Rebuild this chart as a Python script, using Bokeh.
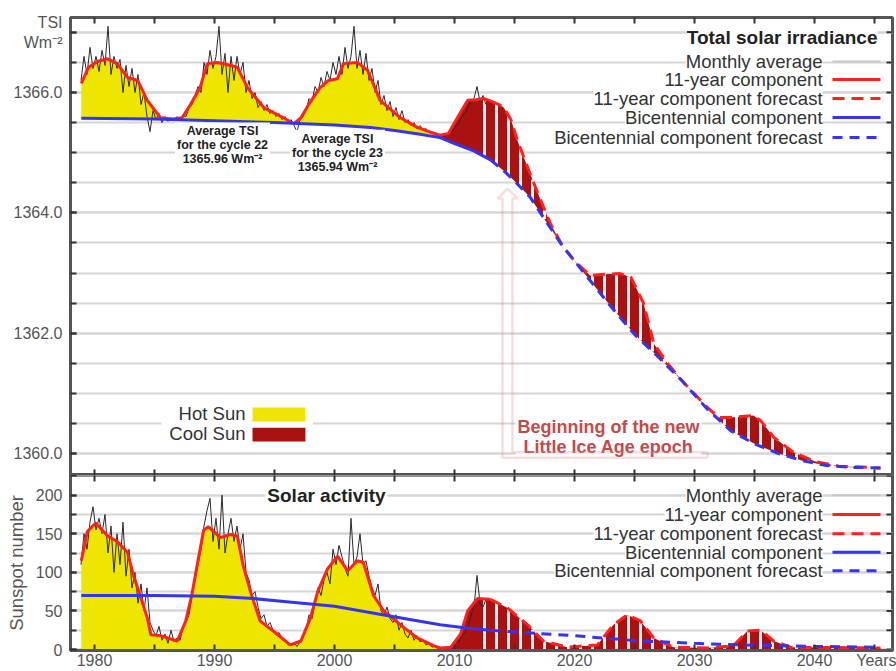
import numpy as np
from bokeh.plotting import figure
from bokeh.layouts import column
from bokeh.models import (Range1d, FixedTicker, NumeralTickFormatter,
                          Label, BoxAnnotation, Arrow, PolyAnnotation)
from bokeh.embed import file_html
from bokeh.resources import INLINE

# ------------------------------------------------------------------ data
MONTHLY_START = 1978.875
MONTHLY_STEP = 0.25

TSI_MONTHLY = [
    1366.2,
    1366.6, 1366.3, 1366.75, 1366.4,
    1366.6, 1366.35, 1366.7, 1366.45,
    1367.1, 1366.3, 1366.6, 1366.4,
    1366.55, 1366.0, 1366.45, 1366.1,
    1366.4, 1366.0, 1366.3, 1365.8,
    1366.0, 1365.6, 1365.35, 1365.7,
    1365.55, 1365.65, 1365.5, 1365.6,
    1365.52, 1365.58, 1365.55, 1365.6,
    1365.55, 1365.62, 1365.6, 1365.75,
    1365.8, 1365.95, 1366.1, 1366.0,
    1366.5, 1366.3, 1366.7, 1366.4,
    1366.6, 1367.1, 1366.3, 1366.65,
    1366.0, 1366.6, 1366.2, 1366.6,
    1366.3, 1366.5, 1366.0, 1366.2,
    1365.9, 1366.0, 1365.75, 1365.85,
    1365.7, 1365.8, 1365.65, 1365.7,
    1365.6, 1365.65, 1365.55, 1365.6,
    1365.5, 1365.55, 1365.45, 1365.35,
    1365.55, 1365.6, 1365.7, 1365.9,
    1365.85, 1366.1, 1366.0, 1366.25,
    1366.1, 1366.35, 1366.2, 1366.5,
    1366.3, 1366.6, 1366.3, 1366.75,
    1366.4, 1366.6, 1367.1, 1366.4,
    1366.7, 1366.3, 1366.65, 1366.2,
    1366.4, 1366.0, 1366.2, 1365.8,
    1365.95, 1365.7, 1365.85, 1365.6,
    1365.75, 1365.55, 1365.7, 1365.5,
    1365.55, 1365.45, 1365.5, 1365.4,
    1365.45, 1365.38, 1365.4, 1365.33,
    1365.35, 1365.3, 1365.28, 1365.3,
    1365.27, 1365.3, 1365.32, 1365.38,
    1365.45, 1365.5, 1365.6, 1365.65,
    1365.75, 1365.85, 1365.9, 1366.1,
    1365.85, 1365.95, 1365.8,
]

SSN_MONTHLY = [
    110,
    150, 130, 165, 185,
    155, 170, 150, 175,
    125, 160, 100, 150,
    110, 165, 95, 130,
    80, 100, 60, 85,
    50, 80, 35, 25,
    18, 30, 12, 20,
    8, 25, 10, 15,
    12, 28, 35, 45,
    70, 90, 110, 130,
    160, 180, 196, 140,
    170, 130, 200, 125,
    150, 170, 140, 160,
    130, 150, 100, 90,
    70, 75, 55, 40,
    45, 30, 35, 25,
    20, 22, 15, 10,
    8, 5, 9, 4,
    10, 18, 25, 45,
    40, 60, 80, 70,
    90, 100, 85, 130,
    110, 135, 120, 105,
    95, 170, 110, 120,
    150, 110, 115, 95,
    80, 70, 85, 50,
    45, 55, 40, 35,
    45, 25, 35, 20,
    15, 25, 12, 18,
    10, 12, 6, 8,
    3, 5, 1, 2,
    1, 2, 4, 8,
    12, 10, 18, 22,
    30, 45, 55, 96,
    60, 55, 65,
]

TSI_11Y_YEARS = [1978.9, 1979.5, 1980.3, 1981.1, 1981.9, 1982.75, 1983.6, 1984.4, 1985.5, 1986.5,
                 1987.3, 1988.0, 1988.8, 1989.4, 1990.25, 1991.1, 1991.9, 1992.75, 1994.1, 1995.75,
                 1996.6, 1997.2, 1998.0, 1998.8, 1999.5, 2000.25, 2000.75, 2001.9, 2002.75, 2003.8,
                 2005.5, 2006.9, 2008.0, 2008.8, 2009.5, 2010.3, 2011.1, 2011.8, 2012.4, 2013.0]
TSI_11Y = [1366.15, 1366.42, 1366.52, 1366.56, 1366.48, 1366.25, 1366.2, 1365.87, 1365.58, 1365.56,
           1365.58, 1365.8, 1366.08, 1366.48, 1366.5, 1366.46, 1366.42, 1366.08, 1365.75, 1365.58,
           1365.48, 1365.58, 1365.85, 1366.08, 1366.2, 1366.23, 1366.48, 1366.5, 1366.37, 1365.87,
           1365.58, 1365.42, 1365.34, 1365.29, 1365.32, 1365.6, 1365.87, 1365.88, 1365.9, 1365.86]
TSI_11Y_FC_YEARS = [2013.0, 2013.7, 2014.1, 2014.7, 2015.25, 2016.3, 2017.2, 2018.0, 2019.0, 2020.0,
                    2021.3, 2022.5, 2023.8, 2024.7, 2025.75, 2026.6, 2027.75, 2029.0, 2031.0, 2032.0,
                    2033.0, 2034.9, 2035.5, 2036.6, 2038.25, 2040.0, 2042.0, 2045.5]
TSI_11Y_FC = [1365.86, 1365.8, 1365.75, 1365.55, 1365.2, 1364.65, 1364.2, 1363.82, 1363.45, 1363.2,
              1362.96, 1362.98, 1362.99, 1362.93, 1362.5, 1361.83, 1361.5, 1361.2, 1360.78, 1360.6,
              1360.6, 1360.63, 1360.55, 1360.27, 1360.02, 1359.87, 1359.79, 1359.76]

TSI_BI_YEARS = [1978.9, 1985.0, 1990.0, 1995.0, 2000.0, 2003.0, 2005.0, 2007.0, 2008.8, 2010.0,
                2011.6, 2013.0]
TSI_BI = [1365.57, 1365.56, 1365.53, 1365.50, 1365.46, 1365.42, 1365.37, 1365.31, 1365.25, 1365.15,
          1365.03, 1364.88]
TSI_BI_FC_YEARS = [2013.0, 2014.1, 2015.0, 2016.3, 2017.75, 2019.0, 2021.0, 2023.0, 2025.0, 2027.0,
                   2029.0, 2031.0, 2033.0, 2035.0, 2037.0, 2039.0, 2041.0, 2043.0, 2045.5]
TSI_BI_FC = [1364.88, 1364.70, 1364.53, 1364.26, 1363.82, 1363.45, 1362.95, 1362.45, 1361.98, 1361.60,
             1361.20, 1360.75, 1360.38, 1360.16, 1360.00, 1359.88, 1359.80, 1359.77, 1359.76]

SSN_11Y_YEARS = [1978.9, 1979.4, 1980.1, 1981.1, 1981.9, 1982.75, 1983.25, 1983.8, 1984.4, 1984.7,
                 1985.5, 1986.9, 1987.6, 1988.1, 1988.6, 1989.1, 1989.5, 1990.5, 1991.3, 1991.9,
                 1992.4, 1993.0, 1993.8, 1994.9, 1996.3, 1997.2, 1998.0, 1998.6, 1999.4, 2000.25,
                 2001.1, 2001.9, 2002.4, 2003.25, 2004.1, 2005.5, 2006.9, 2008.25, 2008.8, 2009.7,
                 2010.5, 2011.1, 2011.9, 2013.0]
SSN_11Y = [115, 153, 164, 147, 140, 126, 96, 70, 41, 19,
           18, 11, 37, 70, 113, 155, 159, 145, 149, 147,
           108, 75, 37, 24, 6, 11, 41, 75, 104, 121,
           102, 115, 113, 70, 50, 32, 15, 5, 2, 3,
           20, 50, 66, 65]
SSN_11Y_FC_YEARS = [2013.0, 2014.4, 2016.1, 2017.4, 2019.4, 2021.9, 2023.25, 2024.4, 2025.5, 2026.6,
                    2028.25, 2031.0, 2033.25, 2034.4, 2035.5, 2036.6, 2038.0, 2045.5]
SSN_11Y_FC = [65, 54, 32, 11, 3, 6, 32, 45, 37, 15,
              3, 2, 5, 24, 25, 11, 3, 2]

SSN_BI_YEARS = [1978.9, 1985.0, 1990.0, 1993.25, 1996.0, 2000.0, 2004.0, 2008.8, 2011.0, 2013.0]
SSN_BI = [70, 70, 69, 66, 62, 56, 45, 32, 28, 25]
SSN_BI_FC_YEARS = [2013.0, 2015.75, 2019.9, 2025.5, 2030.0, 2033.8, 2040.0, 2045.5]
SSN_BI_FC = [25, 22, 18, 11, 8, 6, 4, 3]

HOT_END = 2008.8      # end of "hot sun" period
FC_START = 2013.0     # start of forecasts
STRIPE_START = 2012.5  # first light stripe of the "cool sun" forecast shading

X_MAJOR = [1980, 1990, 2000, 2010, 2020, 2030, 2040]
X_TICKS = [1980, 1985, 1990, 1995, 2000, 2005, 2010, 2015, 2020, 2025, 2030, 2035, 2040, 2045]
YEARS_POS = 2045.9
TSI_MAJOR = [1360, 1362, 1364, 1366, 1367]
TSI_TICKS = [1360.0 + 0.5 * k for k in range(15)]
SSN_MAJOR = [0, 50, 100, 150, 200]
SSN_TICKS = [25 * k for k in range(10)]

LEGEND_LABELS = ["Monthly average", "11-year component", "11-year component forecast",
                 "Bicentennial component", "Bicentennial component forecast"]

# ------------------------------------------------------------------ style
FONT = "Liberation Sans"
YELLOW = "#EEE600"
DARKRED = "#AA1111"
STRIPE_C = "#FBECEC"
RED = "#FF2020"
BLUE = "#3535F0"
MONTHLY_C = "#2a2a2a"
GRID_C = "#D6D6D6"
AXIS_C = "#555555"
TICK_C = "#333333"
LABEL_C = "#555555"
TEXT_C = "#333333"
FC_RED_DASH = "12 7"
FC_BLUE_DASH = "10 7"
LEG_SIZE = "18.5px"
TITLE_SIZE = "19px"

SAMPLE_STYLE = [("#C8C8C8", 2, "solid"), (RED, 3, "solid"), (RED, 3, FC_RED_DASH),
                (BLUE, 3, "solid"), (BLUE, 3, FC_BLUE_DASH)]

X0, X1 = 1978.0, 2046.5
x_range = Range1d(X0, X1)


def base_fig(height, yr, top, bottom):
    p = figure(width=896, height=height, x_range=x_range, y_range=yr,
               output_backend="svg", toolbar_location=None,
               min_border_left=70, min_border_right=4, min_border_top=top,
               min_border_bottom=bottom)
    p.outline_line_color = AXIS_C
    p.outline_line_width = 3
    p.background_fill_color = "white"
    p.border_fill_color = "white"
    p.xgrid.visible = False
    p.ygrid.grid_line_color = GRID_C
    p.ygrid.grid_line_width = 2
    p.ygrid.minor_grid_line_color = GRID_C
    p.ygrid.minor_grid_line_width = 2
    return p


def style_axis(ax):
    ax.axis_line_color = AXIS_C
    ax.axis_line_width = 3
    ax.major_tick_in = 6
    ax.major_tick_out = 0
    ax.minor_tick_in = 6
    ax.minor_tick_out = 0
    ax.major_tick_line_color = TICK_C
    ax.minor_tick_line_color = TICK_C
    ax.major_tick_line_width = 2
    ax.minor_tick_line_width = 2
    ax.major_label_text_font = FONT
    ax.major_label_text_font_size = "16px"
    ax.major_label_text_color = LABEL_C
    ax.major_label_standoff = 8


def edge_ticks(p, xs=None, y_edge=None, ys=None, x_edge=None):
    """Inward tick marks on frame edges without labels (half of each mark is clipped)."""
    if xs is not None:
        p.scatter(xs, [y_edge] * len(xs), marker="dash", size=12, angle=np.pi / 2,
                  line_color=TICK_C, line_width=2)
    if ys is not None:
        p.scatter([x_edge] * len(ys), ys, marker="dash", size=12,
                  line_color=TICK_C, line_width=2)


def band(rx, ry, bx, by, lo, hi):
    rx, ry, bx, by = map(np.asarray, (rx, ry, bx, by))
    mr = (rx >= lo) & (rx <= hi)
    mb = (bx >= lo) & (bx <= hi)
    xs = np.concatenate([rx[mr], bx[mb][::-1]])
    ys = np.concatenate([ry[mr], by[mb][::-1]])
    return xs, ys


def stripes(p, rx, ry, bx, by):
    xs = np.arange(STRIPE_START, max(rx) - 0.2, 1.0)
    top = np.interp(xs, rx, ry)
    bot = np.interp(xs, bx, by)
    keep = (top - bot) > 0
    p.segment(x0=xs[keep], y0=bot[keep], x1=xs[keep], y1=top[keep],
              line_color=STRIPE_C, line_width=3)


def txt(p, x, y, text, size=LEG_SIZE, align="right", bold=False, color=TEXT_C,
        baseline="middle", bg="white", lh=1.2, pad=2):
    lab = Label(x=x, y=y, text=text, text_font=FONT, text_font_size=size,
                text_align=align, text_baseline=baseline, text_color=color,
                text_font_style="bold" if bold else "normal", text_line_height=lh,
                background_fill_color=bg, padding=pad)
    p.add_layout(lab)
    return lab


def legend_block(p, ys, x_text, x0, x1):
    rows = list(zip(LEGEND_LABELS, ys, SAMPLE_STYLE))
    # lowest row first so that each row's white box never hides the row below's letters
    for label, y, (c, w, d) in reversed(rows):
        txt(p, x_text, y, label, pad=0)
        p.add_layout(Arrow(end=None, start=None, x_start=x0, y_start=y, x_end=x1, y_end=y,
                           line_color=c, line_width=w, line_dash=d))


t_month = MONTHLY_START + MONTHLY_STEP * np.arange(len(TSI_MONTHLY))
tsi_rx = TSI_11Y_YEARS + TSI_11Y_FC_YEARS[1:]
tsi_ry = TSI_11Y + TSI_11Y_FC[1:]
tsi_bx = TSI_BI_YEARS + TSI_BI_FC_YEARS[1:]
tsi_by = TSI_BI + TSI_BI_FC[1:]
ssn_rx = np.array(SSN_11Y_YEARS + SSN_11Y_FC_YEARS[1:])
ssn_ry = np.array(SSN_11Y + SSN_11Y_FC[1:])

# ------------------------------------------------------------------ top panel (TSI)
TSI_LO, TSI_HI = 1359.6343, 1367.2466
p1 = base_fig(475, Range1d(TSI_LO, TSI_HI), top=17, bottom=0)
p1.xaxis.visible = False
p1.yaxis.ticker = FixedTicker(ticks=TSI_MAJOR, minor_ticks=TSI_TICKS)
p1.yaxis.formatter = NumeralTickFormatter(format="0.0")
p1.yaxis.major_label_overrides = {1367: "TSI\nWm\u207b\u00b2"}
style_axis(p1.yaxis[0])

p1.patch(*band(tsi_rx, tsi_ry, tsi_bx, tsi_by, 1970, HOT_END), fill_color=YELLOW, line_color=None)
p1.patch(*band(tsi_rx, tsi_ry, tsi_bx, tsi_by, HOT_END, 2050), fill_color=DARKRED, line_color=None)
stripes(p1, tsi_rx, tsi_ry, tsi_bx, tsi_by)
p1.line(t_month, TSI_MONTHLY, line_color=MONTHLY_C, line_width=1)
p1.line(TSI_11Y_YEARS, TSI_11Y, line_color=RED, line_width=3)
p1.line(TSI_11Y_FC_YEARS, TSI_11Y_FC, line_color=RED, line_width=3, line_dash=FC_RED_DASH)
p1.line(TSI_BI_YEARS, TSI_BI, line_color=BLUE, line_width=3)
p1.line(TSI_BI_FC_YEARS, TSI_BI_FC, line_color=BLUE, line_width=3, line_dash=FC_BLUE_DASH)
edge_ticks(p1, xs=X_TICKS, y_edge=TSI_HI)
edge_ticks(p1, xs=X_TICKS, y_edge=TSI_LO)
edge_ticks(p1, ys=TSI_TICKS, x_edge=X1)

# annotations top
legend_block(p1, [1366.515, 1366.216, 1365.900, 1365.584, 1365.252], 2040.67, 2041.5, 2045.5)
txt(p1, 2045.25, 1366.914, "Total solar irradiance", size=TITLE_SIZE, bold=True, color="#222222",
    pad=0)

txt(p1, 1990.67, 1365.12, "Average TSI\nfor the cycle 22\n1365.96 Wm\u207b\u00b2", size="12.5px",
    align="center", bold=True, color="#222222", lh=1.0)
txt(p1, 2000.25, 1365.0, "Average TSI\nfor the cycle 23\n1365.94 Wm\u207b\u00b2", size="12.5px",
    align="center", bold=True, color="#222222", lh=1.0)

p1.add_layout(BoxAnnotation(left=1985.6, right=1998.2, top=1360.85, bottom=1360.13,
                            fill_color="white", fill_alpha=1, line_color=None))
txt(p1, 1992.58, 1360.33, "Cool Sun", pad=0)
txt(p1, 1992.58, 1360.665, "Hot Sun", pad=0)
p1.add_layout(BoxAnnotation(left=1993.17, right=1997.58, top=1360.765, bottom=1360.53,
                            fill_color=YELLOW, fill_alpha=1, line_color=None))
p1.add_layout(BoxAnnotation(left=1993.17, right=1997.58, top=1360.43, bottom=1360.20,
                            fill_color=DARKRED, fill_alpha=1, line_color=None))

txt(p1, 2022.83, 1360.28, "Beginning of the new\nLittle Ice Age epoch", size="18px",
    align="center", bold=True, color="#C44A4A", lh=1.0)
p1.add_layout(PolyAnnotation(
    xs=[2014.0, 2014.0, 2013.58, 2014.42, 2015.25, 2014.83, 2014.83, 2031.08, 2031.08],
    ys=[1359.93, 1364.24, 1364.24, 1364.40, 1364.24, 1364.24, 1360.02, 1360.02, 1359.93],
    fill_alpha=0, line_color="#D99494", line_width=2.5))

# ------------------------------------------------------------------ bottom panel (sunspots)
SSN_LO, SSN_HI = -1.27, 225.48
p2 = base_fig(196, Range1d(SSN_LO, SSN_HI), top=0, bottom=18)
p2.yaxis.ticker = FixedTicker(ticks=SSN_MAJOR, minor_ticks=SSN_TICKS)
style_axis(p2.yaxis[0])
p2.yaxis.axis_label = "Sunspot number"
p2.yaxis.axis_label_text_font = FONT
p2.yaxis.axis_label_text_font_size = "18.5px"
p2.yaxis.axis_label_text_font_style = "normal"
p2.yaxis.axis_label_text_color = LABEL_C
p2.yaxis.axis_label_standoff = 6
p2.xaxis.ticker = FixedTicker(ticks=X_MAJOR + [YEARS_POS])
p2.xaxis.major_label_overrides = {YEARS_POS: "Years"}
style_axis(p2.xaxis[0])
p2.xaxis.major_tick_in = 0
p2.xaxis.minor_tick_in = 0
p2.xaxis.major_label_standoff = 1

m_hot = ssn_rx <= HOT_END
m_cool = ssn_rx >= HOT_END
p2.varea(x=ssn_rx[m_hot], y1=0, y2=ssn_ry[m_hot], fill_color=YELLOW)
p2.varea(x=ssn_rx[m_cool], y1=0, y2=ssn_ry[m_cool], fill_color=DARKRED)
stripes(p2, ssn_rx, ssn_ry, ssn_rx, np.zeros_like(ssn_ry))
p2.line(t_month, SSN_MONTHLY, line_color=MONTHLY_C, line_width=1)
p2.line(SSN_11Y_YEARS, SSN_11Y, line_color=RED, line_width=3)
p2.line(SSN_11Y_FC_YEARS, SSN_11Y_FC, line_color=RED, line_width=3, line_dash=FC_RED_DASH)
p2.line(SSN_BI_YEARS, SSN_BI, line_color=BLUE, line_width=3)
p2.line(SSN_BI_FC_YEARS, SSN_BI_FC, line_color=BLUE, line_width=3, line_dash=FC_BLUE_DASH)
edge_ticks(p2, xs=X_TICKS, y_edge=SSN_HI)
edge_ticks(p2, xs=X_TICKS, y_edge=SSN_LO)
edge_ticks(p2, ys=SSN_TICKS, x_edge=X1)

txt(p2, 1999.33, 200, "Solar activity", size=TITLE_SIZE, align="center", bold=True, color="#222222")
legend_block(p2, [200, 175, 150, 126, 102], 2040.67, 2041.5, 2045.5)

layout = column(p1, p2, spacing=0)
open("out.html", "w").write(file_html(layout, INLINE))
